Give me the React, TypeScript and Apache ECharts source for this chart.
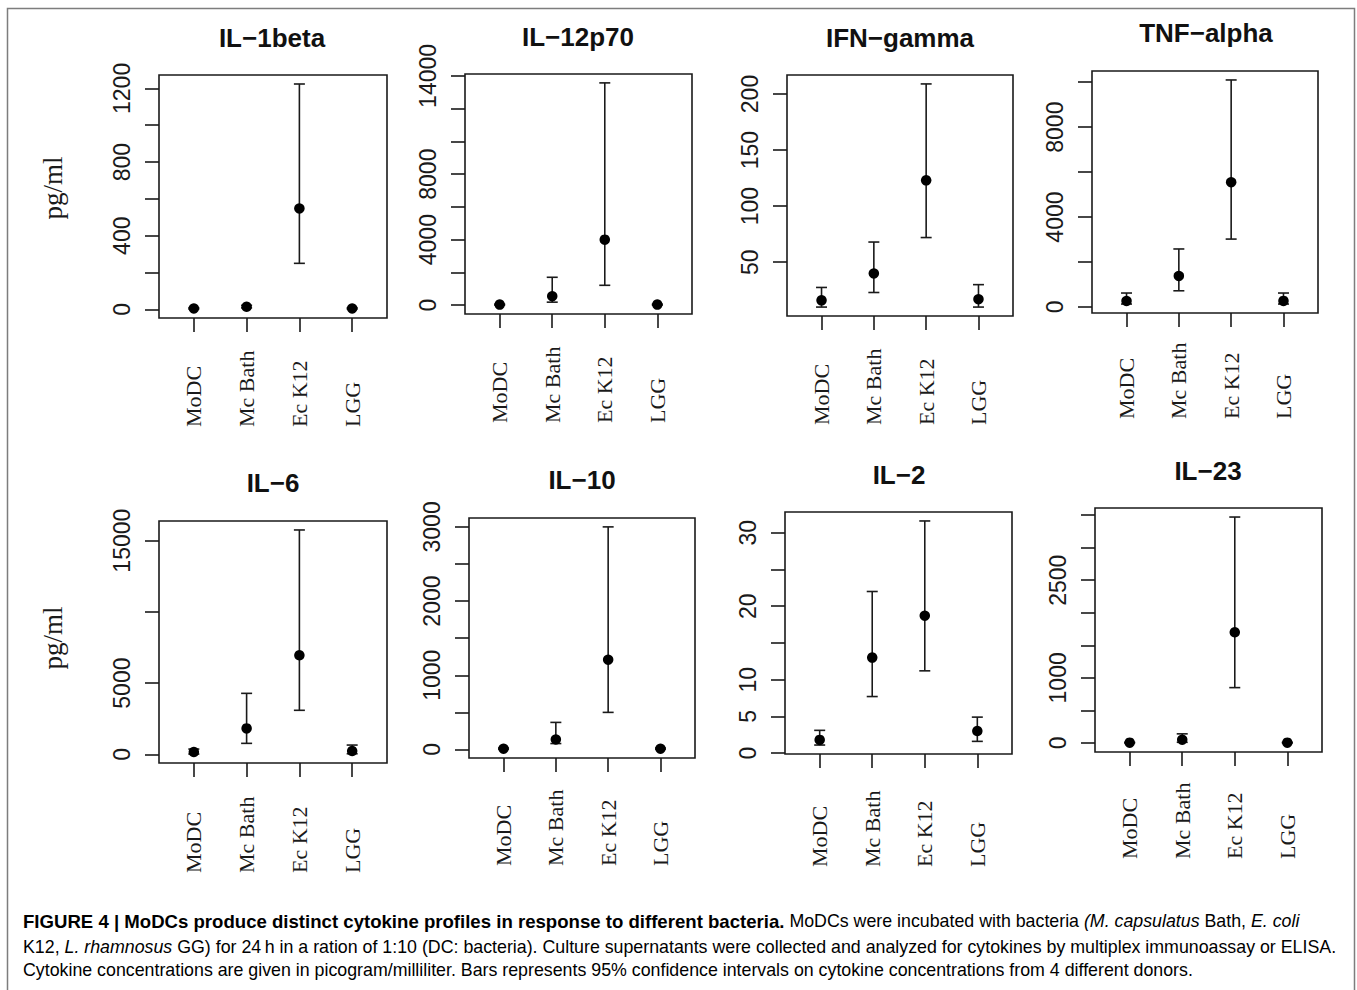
import React, { useEffect, useRef } from 'react';
import * as echarts from 'echarts';

// ---------- data ----------
const categories = ['MoDC', 'Mc Bath', 'Ec K12', 'LGG'];

const il1betaMean = [5, 14, 548, 5];
const il1betaLow = [2, 8, 250, 2];
const il1betaHigh = [9, 22, 1224, 9];
const il1betaTicks = [0, 200, 400, 600, 800, 1000, 1200];
const il1betaLabels = [0, 400, 800, 1200];

const il12Mean = [30, 545, 4000, 30];
const il12Low = [0, 180, 1210, 0];
const il12High = [60, 1700, 13575, 60];
const il12Ticks = [0, 2000, 4000, 6000, 8000, 10000, 12000, 14000];
const il12Labels = [0, 4000, 8000, 14000];

const ifnMean = [16, 40, 123, 17];
const ifnLow = [10, 23, 72, 10];
const ifnHigh = [27.5, 68, 209, 30];
const ifnTicks = [50, 100, 150, 200];
const ifnLabels = [50, 100, 150, 200];

const tnfMean = [267, 1380, 5550, 270];
const tnfLow = [130, 720, 3020, 130];
const tnfHigh = [620, 2580, 10100, 620];
const tnfTicks = [0, 2000, 4000, 6000, 8000, 10000];
const tnfLabels = [0, 4000, 8000];

const il6Mean = [160, 1820, 6950, 230];
const il6Low = [20, 770, 3090, 40];
const il6High = [370, 4280, 15750, 650];
const il6Ticks = [0, 5000, 10000, 15000];
const il6Labels = [0, 5000, 15000];

const il10Mean = [10, 135, 1210, 10];
const il10Low = [5, 80, 500, 5];
const il10High = [20, 365, 3000, 20];
const il10Ticks = [0, 500, 1000, 1500, 2000, 2500, 3000];
const il10Labels = [0, 1000, 2000, 3000];

const il2Mean = [1.8, 13.0, 18.7, 3.0];
const il2Low = [1.1, 7.7, 11.2, 1.6];
const il2High = [3.1, 22.0, 31.6, 4.9];
const il2Ticks = [0, 5, 10, 15, 20, 25, 30];
const il2Labels = [0, 5, 10, 20, 30];

const il23Mean = [5, 50, 1700, 5];
const il23Low = [0, 10, 850, 0];
const il23High = [10, 140, 3470, 10];
const il23Ticks = [0, 500, 1000, 1500, 2000, 2500, 3000, 3500];
const il23Labels = [0, 1000, 2500];

const titles = ['IL\u22121beta', 'IL\u221212p70', 'IFN\u2212gamma', 'TNF\u2212alpha', 'IL\u22126', 'IL\u221210', 'IL\u22122', 'IL\u221223'];
const yAxisTitle = 'pg/ml';

const captionLine1 =
  '{b|FIGURE 4 | MoDCs produce distinct cytokine profiles in response to different bacteria.}{r| MoDCs were incubated with bacteria }{i|(M. capsulatus}{r| Bath, }{i|E. coli}';
const captionLine2 =
  '{r|K12, }{i|L. rhamnosus}{r| GG) for 24\u2009h in a ration of 1:10 (DC: bacteria). Culture supernatants were collected and analyzed for cytokines by multiplex immunoassay or ELISA.}';
const captionLine3 =
  '{r|Cytokine concentrations are given in picogram/milliliter. Bars represents 95% confidence intervals on cytokine concentrations from 4 different donors.}';

// ---------- layout ----------
const panelData = [
  { mean: il1betaMean, low: il1betaLow, high: il1betaHigh, ticks: il1betaTicks, labels: il1betaLabels },
  { mean: il12Mean, low: il12Low, high: il12High, ticks: il12Ticks, labels: il12Labels },
  { mean: ifnMean, low: ifnLow, high: ifnHigh, ticks: ifnTicks, labels: ifnLabels },
  { mean: tnfMean, low: tnfLow, high: tnfHigh, ticks: tnfTicks, labels: tnfLabels },
  { mean: il6Mean, low: il6Low, high: il6High, ticks: il6Ticks, labels: il6Labels },
  { mean: il10Mean, low: il10Low, high: il10High, ticks: il10Ticks, labels: il10Labels },
  { mean: il2Mean, low: il2Low, high: il2High, ticks: il2Ticks, labels: il2Labels },
  { mean: il23Mean, low: il23Low, high: il23High, ticks: il23Ticks, labels: il23Labels },
];

// [left, top, width, height]
const boxes = [
  [159, 75, 228, 243],
  [465, 74, 227, 240],
  [787, 75, 226, 241],
  [1092, 71, 226, 242],
  [159, 521, 228, 242],
  [469, 518, 226, 240],
  [785, 512, 227, 242],
  [1095, 508, 227, 244],
];
const titlePos = [
  [272, 38], [578, 37], [900, 38], [1206, 33],
  [273, 483], [582, 480], [899, 475], [1208, 471],
];
const xLabelMargin = [109, 109, 109, 106, 110, 108, 113, 107];

const INK = '#1a1a1a';
const SANS = "'Liberation Sans', Arial, Helvetica, sans-serif";
const NARROW = "'Liberation Sans Narrow', 'Arial Narrow', sans-serif";
const SERIF = "'Liberation Serif', 'Times New Roman', Times, serif";
const CAP = 17.8;
const CAP_BOLD = 18.6;

function buildOption() {
  const grid: any[] = [];
  const xAxis: any[] = [];
  const yAxis: any[] = [];
  const series: any[] = [];

  panelData.forEach((p, i) => {
    const [left, top, width, height] = boxes[i];
    const lo = Math.min(...p.low);
    const hi = Math.max(...p.high);
    const r = hi - lo;
    grid.push({
      left, top, width, height,
      show: true,
      borderColor: INK,
      borderWidth: 1.6,
      backgroundColor: 'transparent',
      containLabel: false,
      outerBoundsMode: 'none',
    });
    xAxis.push({
      gridIndex: i,
      type: 'value',
      min: 0.34,
      max: 4.66,
      position: 'bottom',
      axisLine: { show: false, onZero: false },
      splitLine: { show: false },
      axisTick: { show: true, length: 14, customValues: [1, 2, 3, 4], lineStyle: { color: INK, width: 1.6 } },
      axisLabel: {
        show: true,
        customValues: [1, 2, 3, 4],
        formatter: (v: number) => categories[Math.round(v) - 1] ?? '',
        rotate: 90,
        align: 'left',
        verticalAlign: 'middle',
        margin: xLabelMargin[i],
        padding: [8, 0, 0, 0],
        fontFamily: SERIF,
        fontSize: 22,
        color: INK,
        hideOverlap: false,
      },
    });
    yAxis.push({
      gridIndex: i,
      type: 'value',
      min: lo - 0.04 * r,
      max: hi + 0.04 * r,
      position: 'left',
      axisLine: { show: false, onZero: false },
      splitLine: { show: false },
      axisTick: { show: true, length: 14, customValues: p.ticks, lineStyle: { color: INK, width: 1.6 } },
      axisLabel: {
        show: true,
        customValues: p.labels,
        formatter: (v: number) => String(Math.round(v)),
        rotate: 90,
        margin: 26,
        fontFamily: NARROW,
        fontSize: 23,
        color: INK,
        hideOverlap: false,
      },
    });
    series.push({
      type: 'custom',
      xAxisIndex: i,
      yAxisIndex: i,
      z: 2,
      encode: { x: 0, y: [1, 2] },
      data: p.low.map((l, k) => [k + 1, l, p.high[k]]),
      renderItem: (params: any, api: any) => {
        const x = api.value(0);
        const pLo = api.coord([x, api.value(1)]);
        const pHi = api.coord([x, api.value(2)]);
        const hw = 5.5;
        const style = { stroke: INK, lineWidth: 1.6, fill: 'none' };
        return {
          type: 'group',
          children: [
            { type: 'line', shape: { x1: pLo[0], y1: pLo[1], x2: pHi[0], y2: pHi[1] }, style },
            { type: 'line', shape: { x1: pHi[0] - hw, y1: pHi[1], x2: pHi[0] + hw, y2: pHi[1] }, style },
            { type: 'line', shape: { x1: pLo[0] - hw, y1: pLo[1], x2: pLo[0] + hw, y2: pLo[1] }, style },
          ],
        };
      },
    });
    series.push({
      type: 'scatter',
      xAxisIndex: i,
      yAxisIndex: i,
      z: 3,
      symbol: 'circle',
      symbolSize: 10.5,
      itemStyle: { color: '#000', opacity: 1 },
      data: p.mean.map((v, k) => [k + 1, v]),
    });
  });

  const graphic: any[] = [
    {
      type: 'rect',
      shape: { x: 7.5, y: 8.5, width: 1347, height: 1010 },
      style: { fill: 'none', stroke: '#7d7d7d', lineWidth: 1.5 },
      silent: true,
    },
  ];
  titles.forEach((t, i) => {
    graphic.push({
      type: 'text',
      x: titlePos[i][0],
      y: titlePos[i][1],
      style: {
        text: t,
        font: `bold 26px ${SANS}`,
        fill: '#111',
        textAlign: 'center',
        textVerticalAlign: 'middle',
      },
    });
  });
  [188, 638].forEach((y) => {
    graphic.push({
      type: 'text',
      x: 53,
      y,
      rotation: Math.PI / 2,
      style: {
        text: yAxisTitle,
        font: `27px ${SERIF}`,
        fill: INK,
        textAlign: 'center',
        textVerticalAlign: 'middle',
      },
    });
  });
  const rich = {
    b: { fontFamily: SANS, fontSize: CAP_BOLD, fontWeight: 'bold', color: '#222' },
    r: { fontFamily: SANS, fontSize: CAP, color: '#333' },
    i: { fontFamily: SANS, fontSize: CAP, fontStyle: 'italic', color: '#333' },
  };
  [[captionLine1, 921], [captionLine2, 946.5], [captionLine3, 970]].forEach(([txt, y]) => {
    graphic.push({
      type: 'text',
      x: 23,
      y: y as number,
      style: {
        text: txt as string,
        rich,
        textAlign: 'left',
        textVerticalAlign: 'middle',
      },
    });
  });

  return {
    animation: false,
    backgroundColor: '#ffffff',
    grid,
    xAxis,
    yAxis,
    series,
    graphic,
  };
}

export default function App() {
  const ref = useRef<HTMLDivElement>(null);
  useEffect(() => {
    if (!ref.current) return;
    const chart = echarts.init(ref.current, null, { renderer: 'svg', width: 1357, height: 990 });
    chart.setOption(buildOption() as any);
    return () => chart.dispose();
  }, []);
  return (
    <div
      ref={ref}
      style={{ position: 'absolute', left: 0, top: 0, width: 1357, height: 990, background: '#fff' }}
    />
  );
}
